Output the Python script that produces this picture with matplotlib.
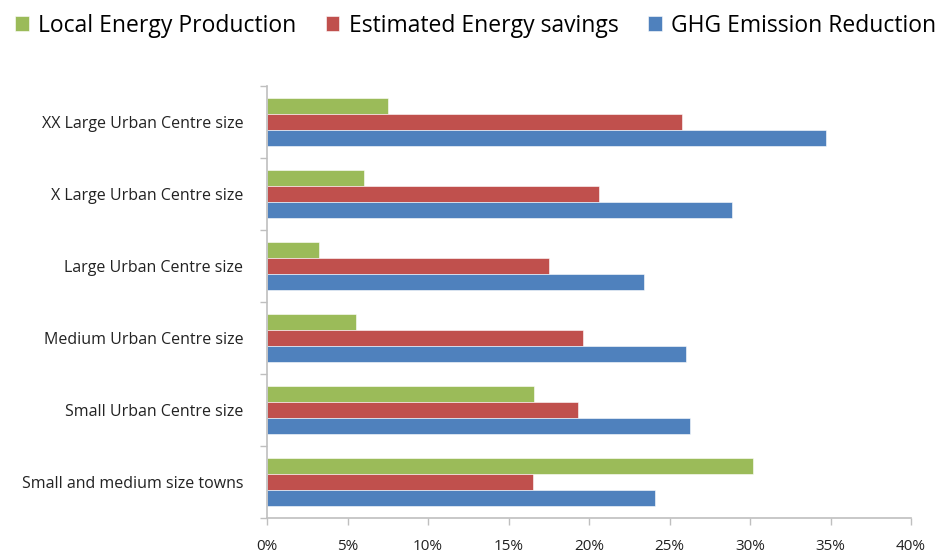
import matplotlib.pyplot as plt
from matplotlib.ticker import FuncFormatter, FixedLocator
import numpy as np

plt.rcParams['font.family'] = ['Open Sans', 'DejaVu Sans']

# categories top to bottom
categories = ['XX Large Urban Centre size', 'X Large Urban Centre size',
              'Large Urban Centre size', 'Medium Urban Centre size',
              'Small Urban Centre size', 'Small and medium size towns']
local_energy = [7.5, 6.0, 3.2, 5.5, 16.6, 30.2]
energy_savings = [25.8, 20.6, 17.5, 19.6, 19.3, 16.5]
ghg_reduction = [34.7, 28.9, 23.4, 26.0, 26.3, 24.1]
series_names = ['Local Energy Production', 'Estimated Energy savings', 'GHG Emission Reduction']
colors = ['#9BBB59', '#C0504D', '#4F81BD']

fig = plt.figure(figsize=(9.51, 5.55), dpi=100)
ax = fig.add_axes([0.2808, 0.0667, 0.958 - 0.2808, 0.845 - 0.0667])

n = len(categories)
y = np.arange(n)[::-1]  # top category highest
h = 0.222
handles = []
for i, (vals, c, name) in enumerate(zip([local_energy, energy_savings, ghg_reduction], colors, series_names)):
    b = ax.barh(y + (1 - i) * h, vals, height=h, color=c, label=name,
                edgecolor='white', linewidth=0.4)
    handles.append(b)

ax.set_xlim(0, 40)
ax.set_ylim(-0.5, n - 0.5)
ax.set_xticks(np.arange(0, 41, 5))
ax.xaxis.set_major_formatter(FuncFormatter(lambda v, p: '%d%%' % v))
ax.set_yticks(y)
ax.set_yticklabels(categories)
ax.yaxis.set_minor_locator(FixedLocator(np.arange(-0.5, n, 1.0)))
ax.tick_params(axis='y', which='major', length=0, pad=17, labelsize=11.5, colors='#222222')
ax.tick_params(axis='y', which='minor', length=5, color='#BFBFBF', width=1)
ax.tick_params(axis='x', length=5, color='#BFBFBF', width=1, labelsize=11,
               colors='#222222', pad=10)
ax.tick_params(axis='x', color='#BFBFBF')

for s in ['top', 'right']:
    ax.spines[s].set_visible(False)
for s in ['left', 'bottom']:
    ax.spines[s].set_color('#BFBFBF')
    ax.spines[s].set_linewidth(1.2)

fig.legend(handles=handles, labels=series_names, loc='upper center',
           bbox_to_anchor=(0.5, 1.0), ncol=3, frameon=False, fontsize=16.5,
           handlelength=0.6, handleheight=0.6, handletextpad=0.4,
           columnspacing=1.3, borderaxespad=0.2)

fig.savefig('out.png', dpi=100, facecolor='white')
